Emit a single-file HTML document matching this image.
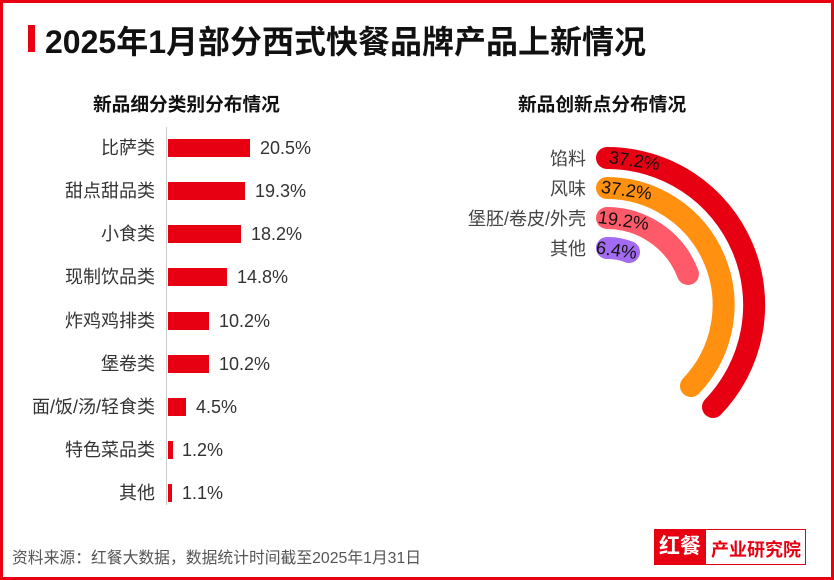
<!DOCTYPE html><html><head><meta charset="utf-8"><style>
body{margin:0;width:834px;height:580px;overflow:hidden;background:#fff;font-family:"Liberation Sans","Noto Sans CJK SC",sans-serif}
.f{position:absolute;left:0;top:0;width:828px;height:574px;border:3px solid #e60012}
.a{position:absolute;white-space:nowrap}
.l{position:absolute;right:679px;font-size:18px;color:#333;line-height:20px}
.b{position:absolute;left:168px;height:18px;background:#e60012}
.v{position:absolute;font-size:18px;color:#333;line-height:20px}
</style></head><body><div class="f"></div>
<div class="a" style="left:28px;top:25px;width:7px;height:27px;background:#e60012"></div>
<div class="a" style="left:45px;top:17px;font-size:32px;font-weight:bold;color:#111">2025年1月部分西式快餐品牌产品上新情况</div>
<div class="a" style="left:93px;top:90px;font-size:18.7px;font-weight:bold;color:#111">新品细分类别分布情况</div>
<div class="a" style="left:518px;top:90px;font-size:18.7px;font-weight:bold;color:#111">新品创新点分布情况</div>
<div class="a" style="left:166px;top:127px;width:1px;height:378px;background:#ccc"></div>
<div class="l" style="top:138px">比萨类</div><div class="b" style="top:139px;width:82px"></div><div class="v" style="top:138px;left:260px">20.5%</div>
<div class="l" style="top:181px">甜点甜品类</div><div class="b" style="top:182px;width:77px"></div><div class="v" style="top:181px;left:255px">19.3%</div>
<div class="l" style="top:224px">小食类</div><div class="b" style="top:225px;width:73px"></div><div class="v" style="top:224px;left:251px">18.2%</div>
<div class="l" style="top:267px">现制饮品类</div><div class="b" style="top:268px;width:59px"></div><div class="v" style="top:267px;left:237px">14.8%</div>
<div class="l" style="top:311px">炸鸡鸡排类</div><div class="b" style="top:312px;width:41px"></div><div class="v" style="top:311px;left:219px">10.2%</div>
<div class="l" style="top:354px">堡卷类</div><div class="b" style="top:355px;width:41px"></div><div class="v" style="top:354px;left:219px">10.2%</div>
<div class="l" style="top:397px">面/饭/汤/轻食类</div><div class="b" style="top:398px;width:18px"></div><div class="v" style="top:397px;left:196px">4.5%</div>
<div class="l" style="top:440px">特色菜品类</div><div class="b" style="top:441px;width:5px"></div><div class="v" style="top:440px;left:182px">1.2%</div>
<div class="l" style="top:483px">其他</div><div class="b" style="top:484px;width:4px"></div><div class="v" style="top:483px;left:182px">1.1%</div>
<svg class="a" style="left:0;top:0" width="834" height="580">
<g fill="none" stroke-linecap="round" stroke-width="22">
<path d="M607 158 A147 147 0 0 1 713 407" stroke="#e60012"/>
<path d="M607 188 A117 117 0 0 1 691 386" stroke="#ff9010"/>
<path d="M607 218 A87 87 0 0 1 688 274" stroke="#ff5a6a"/>
<path d="M607 248 A57 57 0 0 1 629 252" stroke="#a36bf0"/>
</g>
<g font-size="18" fill="#111" font-family="Liberation Sans,sans-serif">
<text x="609" y="166" transform="rotate(8 630 160)">37.2%</text>
<text x="601" y="196" transform="rotate(8 625 190)">37.2%</text>
<text x="598" y="226" transform="rotate(8 620 220)">19.2%</text>
<text x="596" y="256" transform="rotate(8 615 250)">6.4%</text>
</g>
<g font-size="18" fill="#444" text-anchor="end" font-family="Liberation Sans,Noto Sans CJK SC,sans-serif">
<text x="586" y="165">馅料</text><text x="586" y="195">风味</text><text x="586" y="225">堡胚/卷皮/外壳</text><text x="586" y="255">其他</text>
</g></svg>
<div class="a" style="left:12px;top:545px;font-size:15.8px;color:#555">资料来源：红餐大数据，数据统计时间截至2025年1月31日</div>
<div class="a" style="left:654px;top:529px;width:150px;height:34px;border:1px solid #e60012;background:#fff"></div>
<div class="a" style="left:654px;top:529px;width:52px;height:36px;background:#e60012;color:#fff;font-size:21px;font-weight:bold;line-height:36px;text-align:center">红餐</div>
<div class="a" style="left:711px;top:536px;font-size:18px;font-weight:bold;color:#e60012">产业研究院</div>
</body></html>
